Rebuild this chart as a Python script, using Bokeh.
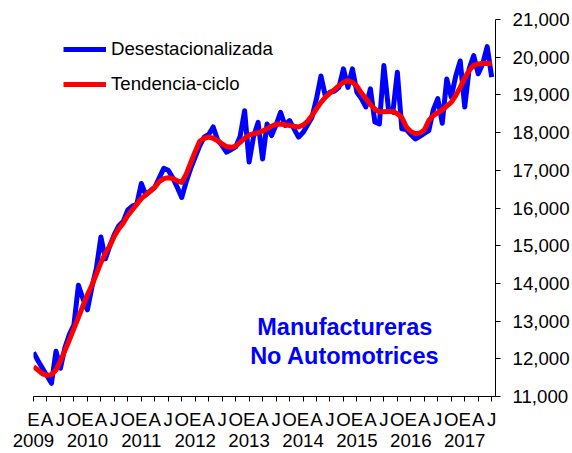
from bokeh.plotting import figure
from bokeh.models import (Range1d, LinearAxis, FixedTicker, Legend, LegendItem,
                          Label, NumeralTickFormatter)
from bokeh.embed import file_html
from bokeh.resources import INLINE

# ---------------- data ----------------
quarter_letters = ["E", "A", "J", "O"]
years = [2009, 2010, 2011, 2012, 2013, 2014, 2015, 2016, 2017]
y_ticks = [11000, 12000, 13000, 14000, 15000, 16000, 17000, 18000, 19000, 20000, 21000]

# monthly, Jan 2009 .. Jul 2017
desestacionalizada = [
    12170, 11950, 11750, 11550, 11350, 12200, 11750, 12300, 12650, 12900,
    13950, 13600, 13300, 13900, 14400, 15230, 14650, 15000, 15300, 15530,
    15650, 15950, 16050, 16100, 16650, 16350, 16450, 16550, 16800, 17050,
    17000, 16800, 16550, 16280, 16700, 17050, 17350, 17650, 17880, 17950,
    18150, 17800, 17650, 17480, 17550, 17620, 17900, 18580, 17220, 17900,
    18270, 17300, 18230, 17920, 18200, 18540, 18190, 18320, 18100, 17880,
    18000, 18200, 18410, 18900, 19500, 18950, 19070, 19100, 19200, 19690,
    19200, 19690, 19070, 18900, 18680, 19160, 18280, 18230, 19780, 18650,
    18540, 19600, 18100, 18080, 17950, 17830, 17900, 17980, 18050, 18600,
    18900, 18250, 19420, 18940, 19500, 19900, 18680, 19700, 20040, 19560,
    19820, 20280, 19470,
]
tendencia_ciclo = [
    11790, 11700, 11600, 11560, 11580, 11700, 11950, 12220, 12500, 12800,
    13100, 13400, 13700, 13950, 14250, 14550, 14800, 15000, 15250, 15450,
    15600, 15800, 15950, 16100, 16250, 16350, 16450, 16550, 16700, 16780,
    16800, 16780, 16720, 16680, 16900, 17200, 17500, 17770, 17850, 17880,
    17850, 17780, 17700, 17630, 17610, 17640, 17740, 17850, 17930, 17970,
    18000, 18040, 18100, 18170, 18220, 18230, 18210, 18190, 18170, 18150,
    18200, 18300, 18450, 18630, 18800, 18940, 19050, 19140, 19250, 19330,
    19380, 19330, 19230, 19050, 18900, 18750, 18620, 18550, 18550, 18560,
    18560, 18500, 18400, 18150, 18030, 17970, 17990, 18070, 18320, 18450,
    18530, 18600, 18700, 18800, 18980, 19200, 19450, 19650, 19780, 19820,
    19830, 19830, 19830,
]
months = list(range(len(desestacionalizada)))

FONT = "Liberation Sans"

p = figure(width=572, height=453,
           x_range=Range1d(0, 102.85), y_range=Range1d(y_ticks[0], y_ticks[-1]),
           y_axis_location="right",
           output_backend="svg", toolbar_location=None,
           min_border_left=33, min_border_right=76,
           min_border_top=19, min_border_bottom=57)
p.grid.visible = False
p.outline_line_color = None
p.background_fill_color = "white"
p.border_fill_color = "white"

# y axis (right)
ya = p.yaxis[0]
ya.ticker = FixedTicker(ticks=y_ticks)
ya.formatter = NumeralTickFormatter(format="0,0")
ya.major_tick_in = 0
ya.major_tick_out = 5
ya.minor_tick_line_color = None
ya.major_label_standoff = 12
ya.major_label_text_font = FONT
ya.major_label_text_font_size = "14pt"
ya.major_label_text_color = "black"
ya.axis_line_color = "black"
ya.major_tick_line_color = "black"

# x axis: quarter letters
q_ticks = [m for m in months if m % 3 == 0]
xa = p.xaxis[0]
xa.ticker = FixedTicker(ticks=q_ticks)
xa.major_label_overrides = {m: quarter_letters[(m // 3) % 4] for m in q_ticks}
xa.major_tick_in = 0
xa.major_tick_out = 5
xa.minor_tick_line_color = None
xa.major_label_standoff = 7
xa.major_label_text_font = FONT
xa.major_label_text_font_size = "14pt"
xa.major_label_text_color = "black"
xa.axis_line_color = "black"
xa.major_tick_line_color = "black"

# x axis: years
y_pos = [12 * (y - years[0]) for y in years]
year_axis = LinearAxis(ticker=FixedTicker(ticks=y_pos),
                       major_label_overrides={m: str(y) for m, y in zip(y_pos, years)},
                       major_tick_in=0, major_tick_out=0,
                       minor_tick_line_color=None, axis_line_color=None,
                       major_label_standoff=1,
                       major_label_text_font=FONT,
                       major_label_text_font_size="14pt",
                       major_label_text_color="black")
p.add_layout(year_axis, "below")

r1 = p.line(months, desestacionalizada, line_color="#0000FF", line_width=5,
            line_join="round")
r2 = p.line(months, tendencia_ciclo, line_color="#FF0000", line_width=5,
            line_join="round")

legend = Legend(items=[LegendItem(label="Desestacionalizada", renderers=[r1]),
                       LegendItem(label="Tendencia-ciclo", renderers=[r2])],
                location=(30, 300), orientation="vertical",
                glyph_width=43, glyph_height=24, label_height=24,
                label_standoff=5, spacing=11, padding=0, margin=0,
                border_line_color=None, background_fill_alpha=0,
                label_text_font=FONT, label_text_font_size="14pt",
                label_text_color="black")
p.add_layout(legend)

for txt, yv in (("Manufactureras", 12843), ("No Automotrices", 12082)):
    p.add_layout(Label(x=69.3, y=yv, text=txt, text_align="center",
                       text_baseline="alphabetic", text_font=FONT,
                       text_font_size="23.5px", text_font_style="bold",
                       text_color="#0000FF"))

open("out.html", "w").write(file_html(p, INLINE))
